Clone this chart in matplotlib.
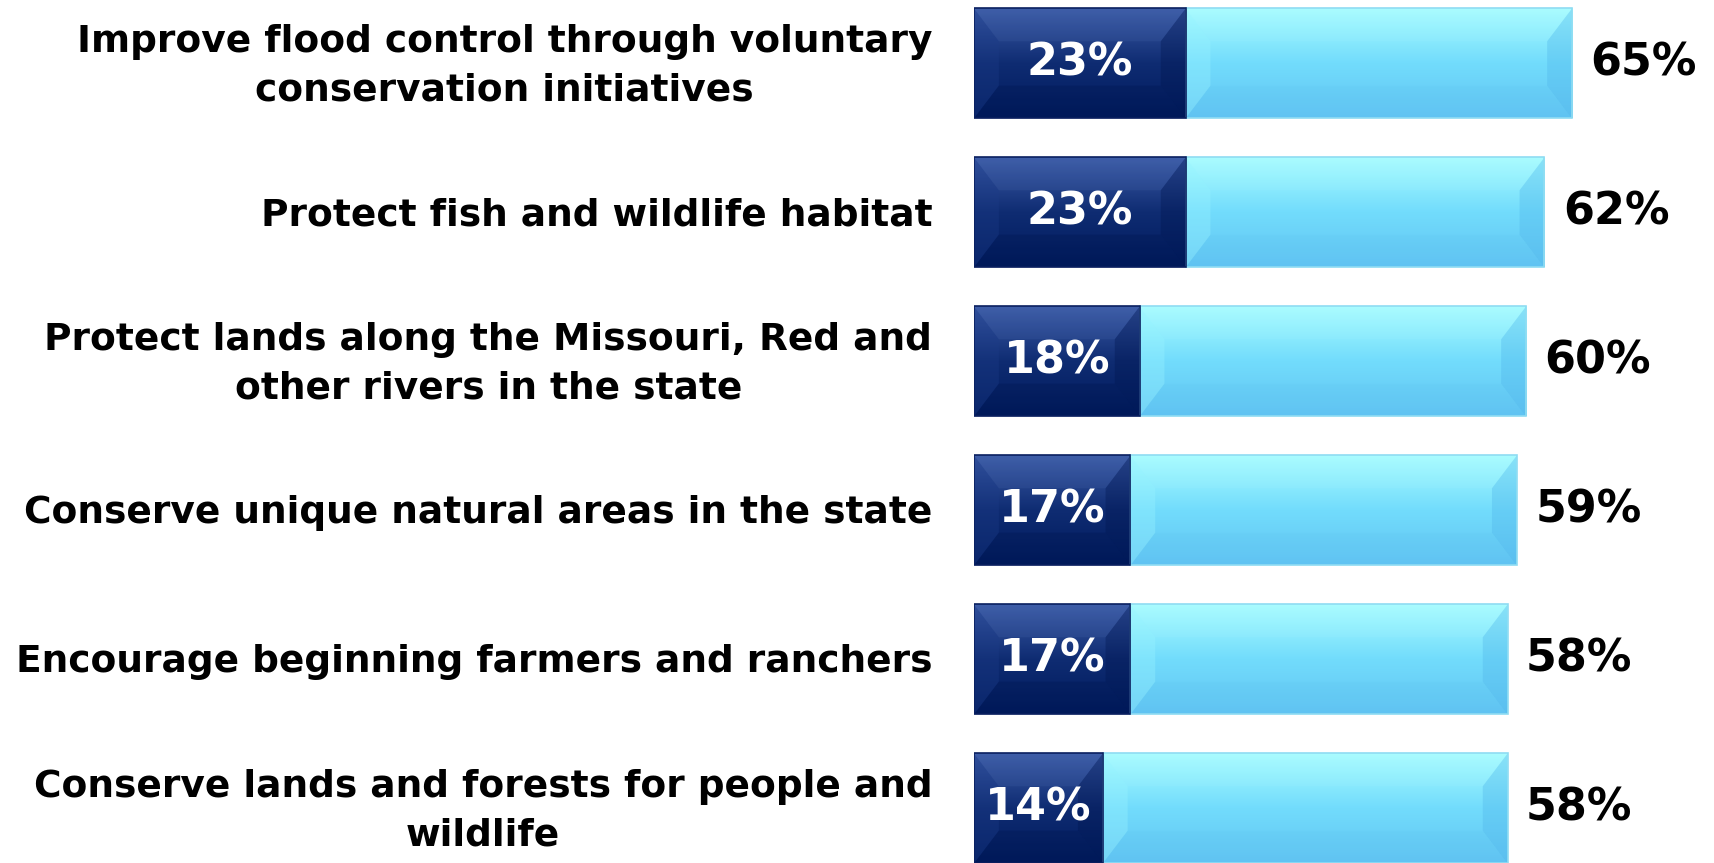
import numpy as np
import matplotlib
matplotlib.use("Agg")
import matplotlib.pyplot as plt
from matplotlib.patches import Polygon, Rectangle
from matplotlib.colors import LinearSegmentedColormap

# dados
rotulos = [
    "Improve flood control through voluntary\nconservation initiatives",
    "Protect fish and wildlife habitat",
    "Protect lands along the Missouri, Red and\nother rivers in the state",
    "Conserve unique natural areas in the state",
    "Encourage beginning farmers and ranchers",
    "Conserve lands and forests for people and\nwildlife",
]
forte = [23, 23, 18, 17, 17, 14]
total = [65, 62, 60, 59, 58, 58]

W, H = 1714, 863
fig = plt.figure(figsize=(W / 100, H / 100), dpi=100)
ax = fig.add_axes([974 / W, 0, 736 / W, 1])
ax.set_xlim(0, 80)
ax.set_ylim(5.366, -0.426)
ax.set_axis_off()

altura = 0.738
bx, by = 2.7, 0.22   # largura do chanfro

cmap_claro = LinearSegmentedColormap.from_list("claro", ["#a8fcff", "#72dcfc", "#62c5f3"])
cmap_escuro = LinearSegmentedColormap.from_list("escuro", ["#3a5aa6", "#0f2c72", "#001b5e"])
grad = np.linspace(0, 1, 100).reshape(-1, 1)


def barra(x0, x1, y, cmap, lado_esq, lado_dir, topo, fundo, borda):
    y0, y1 = y - altura / 2, y + altura / 2
    im = ax.imshow(grad, cmap=cmap, aspect="auto", extent=(x0, x1, y1, y0),
                   interpolation="bicubic", zorder=1)
    ret = Rectangle((x0, y0), x1 - x0, altura, facecolor="none", edgecolor=borda, lw=1.2, zorder=3)
    ax.add_patch(ret)
    im.set_clip_path(ret)
    # chanfros
    ax.add_patch(Polygon([(x0, y0), (x0 + bx, y0 + by), (x0 + bx, y1 - by), (x0, y1)],
                         facecolor=lado_esq[0], alpha=lado_esq[1], lw=0, zorder=2))
    ax.add_patch(Polygon([(x1, y0), (x1 - bx, y0 + by), (x1 - bx, y1 - by), (x1, y1)],
                         facecolor=lado_dir[0], alpha=lado_dir[1], lw=0, zorder=2))
    ax.add_patch(Polygon([(x0, y0), (x1, y0), (x1 - bx, y0 + by), (x0 + bx, y0 + by)],
                         facecolor=topo[0], alpha=topo[1], lw=0, zorder=2))
    ax.add_patch(Polygon([(x0, y1), (x1, y1), (x1 - bx, y1 - by), (x0 + bx, y1 - by)],
                         facecolor=fundo[0], alpha=fundo[1], lw=0, zorder=2))


for i, (f, t, rot) in enumerate(zip(forte, total, rotulos)):
    barra(f, t, i, cmap_claro, ("#9af4ff", 0.35), ("#4fb4ea", 0.35),
          ("#c4ffff", 0.08), ("#4cb2e8", 0.08), "#8fdcf2")
    barra(0, f, i, cmap_escuro, ("#1d3c88", 0.35), ("#00154f", 0.35),
          ("#5a78b8", 0.15), ("#00144c", 0.25), "#0a2060")
    ax.text(f / 2, i, f"{f}%", ha="center", va="center", color="white",
            fontsize=32, fontweight="bold", zorder=5)
    ax.text(t + 2.0, i, f"{t}%", ha="left", va="center", color="black",
            fontsize=32, fontweight="bold", zorder=5)
    ax.annotate(rot, xy=(0, i), xytext=(-30, -2), textcoords="offset points",
                ha="right", va="center", multialignment="center",
                fontsize=27, fontweight="bold", linespacing=1.48,
                annotation_clip=False)

fig.savefig("out.png", dpi=100)
